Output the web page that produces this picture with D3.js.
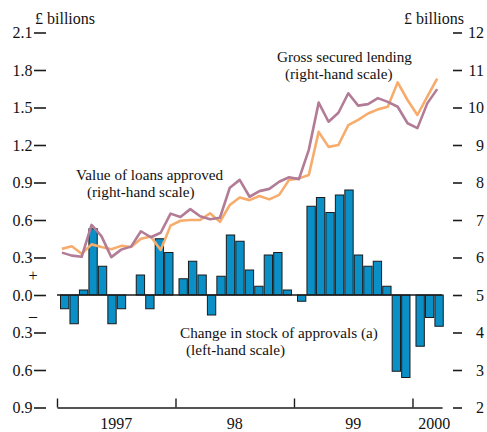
<!DOCTYPE html>
<html>
<head>
<meta charset="utf-8">
<script src="https://cdn.jsdelivr.net/npm/d3@7/dist/d3.min.js"></script>
<style>
  html, body { margin: 0; padding: 0; background: #ffffff; }
  svg { display: block; }
  text { font-family: "Liberation Serif", "Times New Roman", serif; fill: #111; }
</style>
</head>
<body>
<svg id="chart" width="487" height="432"></svg>
<script>
// ---------- data ----------
const months = [
  "1997-01","1997-02","1997-03","1997-04","1997-05","1997-06","1997-07","1997-08","1997-09","1997-10","1997-11","1997-12",
  "1998-01","1998-02","1998-03","1998-04","1998-05","1998-06","1998-07","1998-08","1998-09","1998-10","1998-11","1998-12",
  "1999-01","1999-02","1999-03","1999-04","1999-05","1999-06","1999-07","1999-08","1999-09","1999-10","1999-11","1999-12",
  "2000-01","2000-02","2000-03"
];
// Change in stock of approvals (left-hand scale, £ billions)
const changeInStock = [
  -0.11, -0.23, 0.04, 0.53, 0.23, -0.23, -0.11, 0.00, 0.16, -0.11, 0.45, 0.34,
  0.13, 0.27, 0.16, -0.16, 0.15, 0.48, 0.43, 0.20, 0.07, 0.32, 0.34, 0.04,
  -0.05, 0.71, 0.78, 0.66, 0.80, 0.84, 0.32, 0.23, 0.27, 0.07, -0.61, -0.66,
  -0.41, -0.18, -0.25
];
// Value of loans approved (right-hand scale, £ billions)
const loansApproved = [
  6.13, 6.05, 6.02, 6.87, 6.57, 6.01, 6.21, 6.29, 6.70, 6.54, 6.66, 7.17,
  7.08, 7.29, 7.10, 7.02, 7.06, 7.86, 8.07, 7.62, 7.77, 7.83, 8.02, 8.14,
  8.09, 8.87, 10.13, 9.62, 9.86, 10.38, 10.05, 10.09, 10.25, 10.15, 10.02, 9.58,
  9.45, 10.11, 10.49
];
// Gross secured lending (right-hand scale, £ billions)
const grossLending = [
  6.23, 6.30, 6.10, 6.35, 6.28, 6.22, 6.31, 6.28, 6.50, 6.56, 6.20, 6.85,
  6.98, 7.00, 7.00, 7.18, 6.95, 7.40, 7.60, 7.53, 7.64, 7.55, 7.67, 8.07,
  8.11, 8.20, 9.35, 8.95, 9.00, 9.53, 9.67, 9.84, 9.95, 10.02, 10.67, 10.20,
  9.80, 10.29, 10.77
];
const leftTicks = [2.1, 1.8, 1.5, 1.2, 0.9, 0.6, 0.3, 0.0, -0.3, -0.6, -0.9];
const rightTicks = [12, 11, 10, 9, 8, 7, 6, 5, 4, 3, 2];
const yearLabels = ["1997", "98", "99", "2000"];
const yearStartIndex = [0, 12, 24, 36];

// ---------- scales ----------
const svg = d3.select("#chart");
const nMonths = months.length;
const xM = d3.scaleLinear().domain([0, nMonths]).range([57, 442.1]);
const yL = d3.scaleLinear().domain([-0.9, 2.1]).range([407.5, 32.5]);
const yR = d3.scaleLinear().domain([2, 12]).range([407.5, 32.5]);
const yearWidth = xM(12) - xM(0);
const monthBand = d3.scaleBand().domain(d3.range(12)).range([3.5, yearWidth - 2.5]).paddingInner(0.12);

const barX = i => xM(Math.floor(i / 12) * 12) + monthBand(i % 12);

// ---------- bars ----------
const barData = changeInStock.map((v, i) => ({v, i})).filter(d => d.v !== 0);
svg.append("g").selectAll("rect")
  .data(barData)
  .join("rect")
  .attr("x", d => barX(d.i))
  .attr("y", d => d.v >= 0 ? yL(d.v) : yL(0))
  .attr("width", monthBand.bandwidth())
  .attr("height", d => Math.abs(yL(d.v) - yL(0)))
  .attr("fill", "#0a8fc6")
  .attr("stroke", "#1b1b1b")
  .attr("stroke-width", 1);

// zero line
svg.append("line")
  .attr("x1", xM(0)).attr("x2", xM(nMonths))
  .attr("y1", yL(0)).attr("y2", yL(0))
  .attr("stroke", "#1b1b1b").attr("stroke-width", 1.4);

// ---------- lines ----------
const lineGen = d3.line()
  .x((d, i) => xM(i + 0.5))
  .y(d => yR(d));

svg.append("path").datum(grossLending)
  .attr("d", lineGen)
  .attr("fill", "none")
  .attr("stroke", "#f7ac6c")
  .attr("stroke-width", 2.6)
  .attr("stroke-linejoin", "round");

svg.append("path").datum(loansApproved)
  .attr("d", lineGen)
  .attr("fill", "none")
  .attr("stroke", "#b27c96")
  .attr("stroke-width", 2.6)
  .attr("stroke-linejoin", "round");

// ---------- axes ----------
const leftAxis = d3.axisLeft(yL)
  .tickValues(leftTicks)
  .tickSize(12)
  .tickPadding(1.5)
  .tickFormat(d => Math.abs(d).toFixed(1));
const gL = svg.append("g").attr("transform", "translate(46,0)").call(leftAxis);
gL.select(".domain").remove();
gL.selectAll("line").attr("stroke", "#1b1b1b").attr("stroke-width", 1.6);
gL.selectAll("text").attr("font-size", 16).attr("font-family", "Liberation Serif").attr("fill", "#111");

const rightAxis = d3.axisRight(yR)
  .tickValues(rightTicks)
  .tickSize(9)
  .tickFormat(d3.format("d"));
const gR = svg.append("g").attr("transform", "translate(453,0)").call(rightAxis);
gR.select(".domain").remove();
gR.selectAll("line").attr("stroke", "#1b1b1b").attr("stroke-width", 1.6);
gR.selectAll("text").attr("font-size", 16).attr("font-family", "Liberation Serif")
  .attr("fill", "#111").attr("text-anchor", "end").attr("x", 31);

const bottomAxis = d3.axisBottom(xM)
  .tickValues(yearStartIndex)
  .tickSizeInner(-9)
  .tickSizeOuter(0)
  .tickFormat("");
const gB = svg.append("g").attr("transform", `translate(0,${yL(-0.9)})`).call(bottomAxis);
gB.select(".domain").attr("stroke", "#1b1b1b").attr("stroke-width", 1.4);
gB.selectAll("line").attr("stroke", "#1b1b1b").attr("stroke-width", 1.4);

// year labels
const yearCentre = [6, 18, 30, 38.2];
svg.append("g").selectAll("text")
  .data(yearLabels)
  .join("text")
  .attr("x", (d, i) => xM(yearCentre[i]))
  .attr("y", 429)
  .attr("text-anchor", "middle")
  .attr("font-size", 16)
  .text(d => d);

// + / – signs
svg.append("text").attr("x", 33).attr("y", 281).attr("text-anchor", "middle").attr("font-size", 16).text("+");
svg.append("text").attr("x", 33).attr("y", 321).attr("text-anchor", "middle").attr("font-size", 16).text("–");

// units
svg.append("text").attr("x", 35).attr("y", 24).attr("font-size", 16).text("£ billions");
svg.append("text").attr("x", 404).attr("y", 24).attr("font-size", 16).text("£ billions");

// annotations
const notes = [
  {t: "Gross secured lending", x: 277, y: 62},
  {t: "(right-hand scale)", x: 285, y: 78.8},
  {t: "Value of loans approved", x: 76, y: 180},
  {t: "(right-hand scale)", x: 87, y: 196.8},
  {t: "Change in stock of approvals (a)", x: 180, y: 338},
  {t: "(left-hand scale)", x: 186, y: 354.8}
];
svg.append("g").selectAll("text")
  .data(notes)
  .join("text")
  .attr("x", d => d.x)
  .attr("y", d => d.y)
  .attr("font-size", 15.2)
  .attr("textLength", null)
  .text(d => d.t);
</script>
</body>
</html>
